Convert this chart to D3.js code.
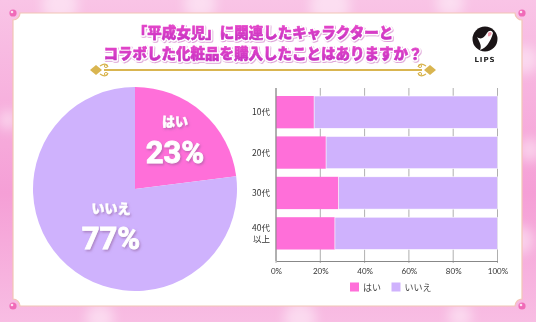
<!DOCTYPE html>
<html><head><meta charset="utf-8">
<script src="https://cdn.jsdelivr.net/npm/d3@7/dist/d3.min.js"></script>
<style>html,body{margin:0;padding:0;background:#f8b6e0;}svg{display:block;}</style>
</head><body>
<svg id="c" width="536" height="322"></svg>
<script>
// ---- data ----
const pieLabels = ["はい", "いいえ"];
const pieValues = [23, 77];
const ageGroups = ["10代", "20代", "30代", "40代\n以上"];
const yesValues = [17.2, 22.6, 28.3, 26.6];
const noValues = [82.8, 77.4, 71.7, 73.4];
const xTicks = [0, 20, 40, 60, 80, 100];
const legendLabels = ["はい", "いいえ"];
const titleLines = ["「平成女児」に関連したキャラクターと", "コラボした化粧品を購入したことはありますか？"];

const PINK = "#ff6fd9", LAV = "#cfb2fd";
const JP = "'Noto Sans CJK JP','Noto Sans',sans-serif";
const svg = d3.select("#c");
const defs = svg.append("defs");

// background
const bg = defs.append("linearGradient").attr("id","bg").attr("x1",0).attr("y1",0).attr("x2",0).attr("y2",1);
bg.append("stop").attr("offset","0").attr("stop-color","#f9c4e6");
bg.append("stop").attr("offset","0.6").attr("stop-color","#f59fd6");
bg.append("stop").attr("offset","1").attr("stop-color","#f8bde3");
svg.append("rect").attr("width",536).attr("height",322).attr("fill","url(#bg)");
const blur = defs.append("filter").attr("id","blur").attr("x","-50%").attr("y","-50%").attr("width","200%").attr("height","200%");
blur.append("feGaussianBlur").attr("stdDeviation",6);
const bokeh = [[60,5,18],[200,4,16],[330,6,20],[450,3,14],[525,60,14],[530,150,12],[8,120,10],[520,240,14],[100,318,14],[300,318,16],[460,316,12]];
svg.append("g").attr("filter","url(#blur)").selectAll("circle").data(bokeh).join("circle")
  .attr("cx",d=>d[0]).attr("cy",d=>d[1]).attr("r",d=>d[2]).attr("fill","#fff").attr("opacity",0.45);

// panel with concave corners
const L=13,T=13,R=522,B=306,cr=7;
const panelPath = `M${L+cr},${T} L${R-cr},${T} A${cr},${cr} 0 0 0 ${R},${T+cr} L${R},${B-cr} A${cr},${cr} 0 0 0 ${R-cr},${B} L${L+cr},${B} A${cr},${cr} 0 0 0 ${L},${B-cr} L${L},${T+cr} A${cr},${cr} 0 0 0 ${L+cr},${T} Z`;
svg.append("path").attr("d",panelPath).attr("fill","#fff").attr("stroke","#f2c6b4").attr("stroke-width",1.2);
[[L,T],[R,T],[L,B],[R,B]].forEach(p=>{
  svg.append("circle").attr("cx",p[0]).attr("cy",p[1]).attr("r",3.6).attr("fill","#f06ab8");
  svg.append("circle").attr("cx",p[0]-1).attr("cy",p[1]-1).attr("r",1.3).attr("fill","#fff").attr("opacity",0.8);
});

// title
const tg = defs.append("linearGradient").attr("id","tg").attr("x1",0).attr("y1",0).attr("x2",0).attr("y2",1);
tg.append("stop").attr("offset","0").attr("stop-color","#ec4ccb");
tg.append("stop").attr("offset","1").attr("stop-color","#c42fc2");
const tsh = defs.append("filter").attr("id","tsh");
tsh.append("feDropShadow").attr("dx",0.8).attr("dy",1).attr("stdDeviation",0.6).attr("flood-color","#d07ac8").attr("flood-opacity",0.7);
const title = svg.append("g").attr("font-family",JP).attr("font-weight",900).attr("font-size",14.5).attr("text-anchor","middle");
titleLines.forEach((t,i)=>{
  title.append("text").attr("x",263).attr("y",38+i*20.5).text(t)
    .attr("fill","none").attr("stroke","#fff").attr("stroke-width",3.5).attr("stroke-linejoin","round").attr("filter","url(#tsh)");
  title.append("text").attr("x",263).attr("y",38+i*20.5).text(t).attr("fill","url(#tg)")
    .attr("stroke","url(#tg)").attr("stroke-width",0.6).attr("stroke-linejoin","round");
});

// gold divider
const gold = "#d9b550";
const dv = svg.append("g");
dv.append("line").attr("x1",104).attr("x2",422).attr("y1",70).attr("y2",70).attr("stroke",gold).attr("stroke-width",1.8);
[[96,1],[430,-1]].forEach(([x,s])=>{
  dv.append("path").attr("d",`M${x-6},70 L${x},65 L${x+6},70 L${x},75 Z`).attr("fill",gold);
  dv.append("path").attr("d",`M${x+s*4},66 q${s*6},-4 ${s*8},1 M${x+s*4},74 q${s*6},4 ${s*8},-1`).attr("fill","none").attr("stroke",gold).attr("stroke-width",1.3);
  dv.append("circle").attr("cx",x+s*10).attr("cy",66).attr("r",1.6).attr("fill","none").attr("stroke",gold).attr("stroke-width",1);
  dv.append("circle").attr("cx",x+s*10).attr("cy",74).attr("r",1.6).attr("fill","none").attr("stroke",gold).attr("stroke-width",1);
});

// LIPS logo
const lg = svg.append("g").attr("transform","translate(485,39)");
lg.append("circle").attr("r",12.5).attr("fill","#1a1416");
lg.append("path").attr("d","M-8,-2 C-4,1 -1,-1 2,-6 C4,-9 7,-9 8,-6 C7,-2 5,2 3,5 C1,8 -2,10 -5,11 C-3,7 -5,4 -8,-2 Z").attr("fill","#fff");
lg.append("path").attr("d","M3,-6 C5,-8 7,-7 6.5,-5 C5.5,-3 4,-2 3,-3 Z").attr("fill","#f4a0b0");
lg.append("text").attr("y",23).attr("text-anchor","middle").attr("font-family","'DejaVu Sans',sans-serif").attr("font-weight","bold").attr("font-size",7).attr("letter-spacing",1).attr("fill","#222").text("LIPS");

// pie
const cx=135, cy=189, rad=102;
const pie = d3.pie().sort(null).value(d=>d)(pieValues);
const arc = d3.arc().innerRadius(0).outerRadius(rad);
const pg = svg.append("g").attr("transform",`translate(${cx},${cy})`);
pg.selectAll("path").data(pie).join("path").attr("d",arc).attr("fill",(d,i)=>i===0?PINK:LAV);
const psh = defs.append("filter").attr("id","psh");
psh.append("feDropShadow").attr("dx",1.2).attr("dy",1.5).attr("stdDeviation",0.8).attr("flood-color","#8a5a90").attr("flood-opacity",0.55);
const pieTextPos = [[40,-63,-26],[-24,24,60]];
pie.forEach((d,i)=>{
  const [dx,y1,y2] = pieTextPos[i];
  const g = pg.append("g").attr("fill","#fff").attr("font-family",JP).attr("font-weight",900).attr("text-anchor","middle").attr("filter","url(#psh)");
  g.append("text").attr("x",dx).attr("y",y1).attr("font-size",13).attr("stroke","#fff").attr("stroke-width",0.4).text(pieLabels[i]);
  g.append("text").attr("x",dx).attr("y",y2).attr("font-size",31).attr("font-weight","bold")
    .attr("font-family","'Roboto','Noto Sans',sans-serif").attr("stroke","#fff").attr("stroke-width",0.8).text(pieValues[i]+"%");
});

// bar chart
const x = d3.scaleLinear().domain([0,100]).range([276,497.5]);
const y = d3.scaleBand().domain(ageGroups).range([91.96,253.56]).paddingInner(0.2).paddingOuter(0.1);
const bc = svg.append("g");
bc.selectAll("line.grid").data(xTicks).join("line").attr("class","grid")
  .attr("x1",d=>x(d)).attr("x2",d=>x(d)).attr("y1",88).attr("y2",263).attr("stroke","#9a9a9a").attr("stroke-width",0.8);
bc.selectAll("rect.yes").data(ageGroups).join("rect").attr("class","yes")
  .attr("x",x(0)).attr("y",d=>y(d)).attr("height",y.bandwidth()).attr("width",(d,i)=>x(yesValues[i])-x(0)).attr("fill",PINK);
bc.selectAll("rect.no").data(ageGroups).join("rect").attr("class","no")
  .attr("x",(d,i)=>x(yesValues[i])).attr("y",d=>y(d)).attr("height",y.bandwidth()).attr("width",(d,i)=>x(yesValues[i]+noValues[i])-x(yesValues[i])).attr("fill",LAV)
  .attr("stroke","#fff").attr("stroke-width",0.6);
// axes
const xa = d3.axisBottom(x).tickValues(xTicks).tickFormat(d=>d+"%").tickSize(0).tickPadding(7);
const xg = bc.append("g").attr("transform","translate(0,261)").call(xa);
xg.select(".domain").attr("stroke","#888");
xg.selectAll("text").attr("font-family","'Lato','Noto Sans',sans-serif").attr("font-size",8).attr("fill","#333");
bc.append("line").attr("x1",276).attr("x2",276).attr("y1",88).attr("y2",261).attr("stroke","#888").attr("stroke-width",1);
const ya = d3.axisLeft(y).tickSize(0).tickPadding(6).tickFormat("");
const yg = bc.append("g").attr("transform","translate(276,0)").call(ya);
yg.select(".domain").remove();
yg.selectAll(".tick").each(function(d){
  const lines = d.split("\n");
  const t = d3.select(this).append("text").attr("x",-6).attr("text-anchor","end").attr("font-family",JP).attr("font-size",8.5).attr("fill","#333");
  lines.forEach((l,i)=>t.append("tspan").attr("x",-6).attr("y",(i-(lines.length-1)/2)*10.5+3).text(l));
});

// legend
const lgd = svg.append("g").attr("font-family",JP).attr("font-size",9).attr("fill","#444");
const legX = [350, 391.5];
legendLabels.forEach((l,i)=>{
  lgd.append("rect").attr("x",legX[i]).attr("y",282.5).attr("width",9).attr("height",9).attr("fill",i===0?PINK:LAV);
  lgd.append("text").attr("x",legX[i]+13).attr("y",290.5).text(l);
});
</script>
</body></html>
